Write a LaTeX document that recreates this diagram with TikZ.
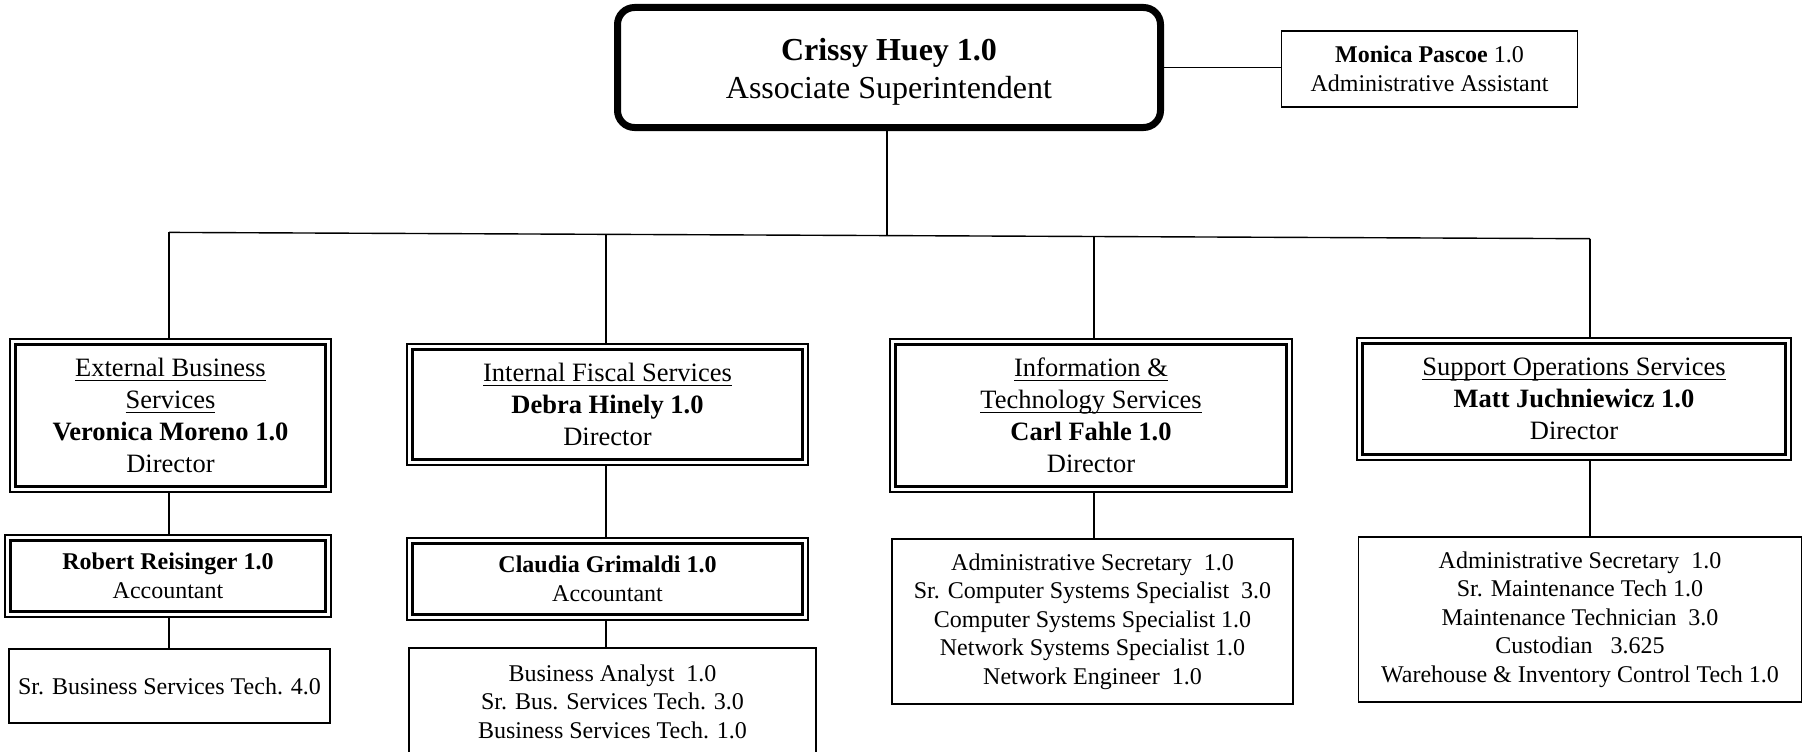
\documentclass[tikz,border=0pt]{standalone}
\usepackage{fontspec}
\setmainfont{Liberation Serif}
\newcommand\myul[1]{\setbox0\hbox{#1}\rlap{\rule[-4.3pt]{\wd0}{1pt}}\box0}
\begin{document}
\begin{tikzpicture}[x=1pt,y=-1pt,
  conn/.style={line width=1.4pt},
  dirbox/.style={draw, line width=2.2pt, inner sep=0pt, align=center,
    path picture={\draw[line width=2.8pt]
      ([shift={(5.2pt,-5.2pt)}]path picture bounding box.north west) rectangle
      ([shift={(-5.2pt,5.2pt)}]path picture bounding box.south east);}},
  listbox/.style={draw, line width=1.5pt, inner sep=0pt, align=center},
  dirfont/.style={font=\fontsize{26.5}{32}\selectfont},
  accfont/.style={font=\fontsize{24}{29.5}\selectfont},
  listfont/.style={font=\fontsize{24}{28.6}\selectfont},
]
\useasboundingbox (0,0) rectangle (1804,752);

% top
\node[draw, line width=7pt, rounded corners=17pt, minimum width=543pt, minimum height=120pt,
      align=center, font=\fontsize{32}{38}\selectfont] (top) at (889,67.5)
      {\rule{0pt}{30pt}\textbf{Crissy Huey 1.0}\\Associate Superintendent};
\node[listbox, minimum width=296pt, minimum height=76pt, font=\fontsize{24}{28.5}\selectfont]
      (mp) at (1429.5,69) {\textbf{Monica Pascoe} 1.0\\Administrative Assistant};

% directors
\node[dirbox, dirfont, minimum width=321pt, minimum height=153pt] (A) at (170.5,415.5)
  {\myul{External Business}\\\myul{Services}\\\textbf{Veronica Moreno 1.0}\\Director};
\node[dirbox, dirfont, minimum width=401pt, minimum height=121pt] (D) at (607.5,404.5)
  {\myul{Internal Fiscal Services}\\\textbf{Debra Hinely 1.0}\\Director};
\node[dirbox, dirfont, minimum width=402pt, minimum height=153pt] (G) at (1091,415.5)
  {\myul{Information \&}\\\myul{Technology Services}\\\textbf{Carl Fahle 1.0}\\Director};
\node[dirbox, dirfont, minimum width=434pt, minimum height=122pt] (I) at (1574,399)
  {\myul{Support Operations Services}\\\textbf{Matt Juchniewicz 1.0}\\Director};

% accountants
\node[dirbox, accfont, minimum width=326pt, minimum height=82pt] (B) at (168,576)
  {\textbf{Robert Reisinger 1.0}\\Accountant};
\node[dirbox, accfont, minimum width=401pt, minimum height=82pt] (E) at (607.5,579)
  {\textbf{Claudia Grimaldi 1.0}\\Accountant};

% lists
\node[listbox, listfont, minimum width=321pt, minimum height=74pt] (C) at (169.5,686)
  {Sr. Business Services Tech. 4.0};
\node[listbox, listfont, minimum width=407pt, minimum height=107pt] (F) at (612.5,701.5)
  {Business Analyst\ \ 1.0\\Sr. Bus. Services Tech. 3.0\\Business Services Tech. 1.0};
\node[listbox, listfont, minimum width=401pt, minimum height=165pt] (H) at (1092.5,621.5)
  {Administrative Secretary\ \ 1.0\\Sr. Computer Systems Specialist\ \ 3.0\\Computer Systems Specialist 1.0\\Network Systems Specialist 1.0\\Network Engineer\ \ 1.0};
\node[listbox, listfont, minimum width=443pt, minimum height=165pt] (J) at (1580,619.5)
  {Administrative Secretary\ \ 1.0\\Sr. Maintenance Tech 1.0\\Maintenance Technician\ \ 3.0\\Custodian\ \ \ 3.625\\Warehouse \& Inventory Control Tech 1.0};

% junctions
\coordinate (j1) at (169,232.4);
\coordinate (j2) at (606,234.3);
\coordinate (jc) at (887,235.6);
\coordinate (j3) at (1094,236.5);
\coordinate (j4) at (1590,238.7);

% connectors
\draw[conn] (top.east) -- (top.east -| mp.west);
\draw[conn] (top.south -| jc) -- (jc);
\draw[conn] (j1) -- (j4);
\draw[conn] (j1) -- (j1 |- A.north);
\draw[conn] (j2) -- (j2 |- D.north);
\draw[conn] (j3) -- (j3 |- G.north);
\draw[conn] (j4) -- (j4 |- I.north);
\draw[conn] (A.south -| j1) -- (B.north -| j1);
\draw[conn] (B.south -| j1) -- (C.north -| j1);
\draw[conn] (D.south -| j2) -- (E.north -| j2);
\draw[conn] (E.south -| j2) -- (F.north -| j2);
\draw[conn] (G.south -| j3) -- (H.north -| j3);
\draw[conn] (I.south -| j4) -- (J.north -| j4);
\end{tikzpicture}
\end{document}
